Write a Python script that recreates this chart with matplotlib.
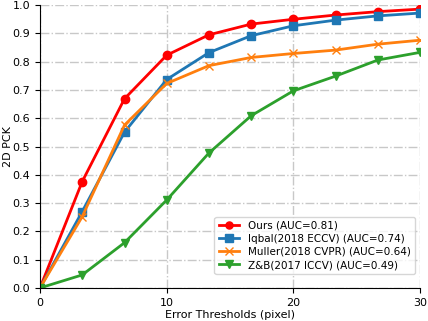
import matplotlib
matplotlib.use("Agg")
import matplotlib.pyplot as plt

thresholds = [0, 3.33, 6.67, 10, 13.33, 16.67, 20, 23.33, 26.67, 30]
ours = [0, 0.376, 0.669, 0.823, 0.895, 0.933, 0.95, 0.965, 0.977, 0.986]
iqbal = [0, 0.27, 0.551, 0.737, 0.832, 0.892, 0.927, 0.947, 0.962, 0.972]
muller = [0, 0.252, 0.576, 0.723, 0.786, 0.815, 0.829, 0.841, 0.862, 0.876]
zb = [0, 0.046, 0.16, 0.311, 0.477, 0.609, 0.697, 0.749, 0.806, 0.833]

fig = plt.figure(figsize=(4.28, 3.21), dpi=100)
ax = fig.add_axes([0.0935, 0.103, 0.888, 0.881])

ax.plot(thresholds, ours, marker='o', color='red', lw=2, ms=6, label='Ours (AUC=0.81)')
ax.plot(thresholds, iqbal, marker='s', color='#1f77b4', lw=2, ms=6, label='Iqbal(2018 ECCV) (AUC=0.74)')
ax.plot(thresholds, muller, marker='x', color='#ff7f0e', lw=2, ms=6, label='Muller(2018 CVPR) (AUC=0.64)')
ax.plot(thresholds, zb, marker='v', color='#2ca02c', lw=2, ms=6, label='Z&B(2017 ICCV) (AUC=0.49)')

ax.set_xlim(0, 30)
ax.set_ylim(0, 1.0)
ax.set_xticks([0, 10, 20, 30])
ax.set_yticks([i / 10 for i in range(11)])
ax.tick_params(labelsize=8)
ax.grid(True, linestyle='-.', color='#c8c8c8', lw=1)
ax.spines['top'].set_visible(False)
ax.spines['right'].set_visible(False)
ax.set_xlabel('Error Thresholds (pixel)', fontsize=8, labelpad=2)
ax.set_ylabel('2D PCK', fontsize=8)
ax.yaxis.set_label_coords(-0.07, 0.5)
ax.legend(loc='lower right', fontsize=7.5, handlelength=2, markerscale=0.85,
          borderpad=0.4, labelspacing=0.3, bbox_to_anchor=(1.0, 0.03))

fig.savefig('out.png', dpi=100)
